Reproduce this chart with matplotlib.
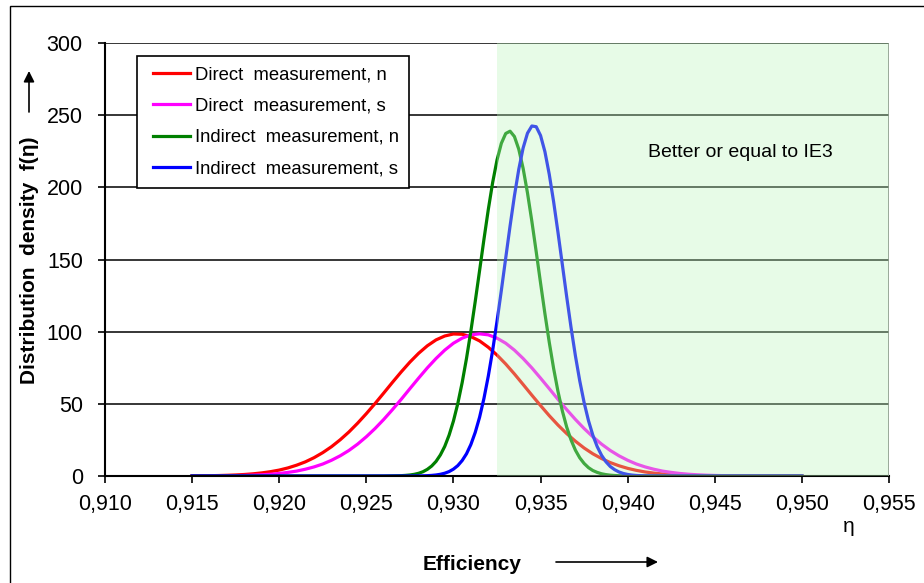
"""
Distribution density of motor efficiency for direct and indirect
measurement, with the IE3 region shaded.
"""

import numpy as np
import matplotlib
import matplotlib.pyplot as plt
from matplotlib.patches import Rectangle
from matplotlib.legend_handler import HandlerLine2D

matplotlib.use("Agg")
plt.rcParams["font.family"] = ["Liberation Sans", "DejaVu Sans"]

# efficiency grid for the two wide (direct) curves
eta_direct = np.round(np.arange(0.915, 0.95001, 0.0005), 5)

direct_n = [
    0.09, 0.14, 0.21, 0.32, 0.49, 0.72, 1.05, 1.52, 2.15, 3.0,
    4.1, 5.6, 7.5, 9.8, 12.7, 16.2, 20.3, 25.1, 30.5, 36.6,
    43.2, 50.2, 57.5, 64.9, 72.1, 78.9, 85.0, 90.2, 94.3, 97.0,
    98.4, 98.2, 96.6, 93.6, 89.2, 83.8, 77.6, 70.7, 63.4, 56.0,
    48.8, 41.8, 35.3, 29.4, 24.1, 19.4, 15.4, 12.1, 9.3, 7.1,
    5.3, 3.9, 2.8, 2.0, 1.4, 0.98, 0.67, 0.45, 0.30, 0.19,
    0.12, 0.08, 0.05, 0.03, 0.02, 0.01, 0.01, 0.0, 0.0, 0.0,
    0.0,
]

direct_s = [
    0.02, 0.04, 0.07, 0.10, 0.16, 0.25, 0.38, 0.57, 0.84, 1.22,
    1.75, 2.5, 3.4, 4.7, 6.3, 8.3, 10.9, 14.0, 17.7, 22.1,
    27.2, 32.9, 39.2, 46.0, 53.1, 60.5, 67.8, 74.9, 81.4, 87.2,
    92.0, 95.5, 97.8, 98.5, 97.8, 95.5, 92.0, 87.2, 81.4, 74.9,
    67.8, 60.5, 53.1, 46.0, 39.2, 32.9, 27.2, 22.1, 17.7, 14.0,
    10.9, 8.3, 6.3, 4.7, 3.4, 2.5, 1.75, 1.22, 0.84, 0.57,
    0.38, 0.25, 0.16, 0.10, 0.07, 0.04, 0.02, 0.01, 0.01, 0.0,
    0.0,
]

# efficiency grid for the two narrow (indirect) curves
eta_indirect = np.round(np.concatenate([
    [0.915, 0.920, 0.925, 0.926],
    np.arange(0.927, 0.94101, 0.00025),
    [0.942, 0.945, 0.950],
]), 5)

indirect_n = [
    0.0, 0.0, 0.0, 0.02,
    0.24, 0.42, 0.70, 1.16, 1.87, 2.95, 4.6, 6.9, 10.1, 14.6,
    20.5, 28.3, 38.1, 50.2, 64.7, 81.5, 100.4, 120.9, 142.3, 163.9,
    184.6, 203.3, 218.9, 230.5, 237.3, 238.9, 235.2, 226.4, 213.1, 196.1,
    176.5, 155.4, 133.7, 112.5, 92.6, 74.5, 58.6, 45.1, 33.9, 25.0,
    17.9, 12.6, 8.7, 5.8, 3.8, 2.5, 1.55, 0.96, 0.57, 0.34,
    0.19, 0.11, 0.06, 0.03, 0.02, 0.01, 0.0,
    0.0, 0.0, 0.0,
]

indirect_s = [
    0.0, 0.0, 0.0, 0.0,
    0.01, 0.01, 0.02, 0.04, 0.07, 0.13, 0.24, 0.42, 0.71, 1.19,
    1.93, 3.06, 4.76, 7.2, 10.7, 15.4, 21.8, 30.2, 40.7, 53.7,
    69.2, 87.0, 107.1, 128.6, 151.0, 173.2, 194.1, 212.5, 227.3, 237.5,
    242.5, 242.0, 235.9, 224.7, 209.0, 190.0, 168.8, 146.5, 124.2, 102.9,
    83.3, 65.9, 50.9, 38.4, 28.3, 20.4, 14.4, 9.9, 6.6, 4.4,
    2.8, 1.75, 1.07, 0.64, 0.38, 0.21, 0.12,
    0.01, 0.0, 0.0,
]

ie3_limit = 0.9325
x_ticks = [0.910, 0.915, 0.920, 0.925, 0.930, 0.935, 0.940, 0.945, 0.950, 0.955]
x_tick_labels = ["0,910", "0,915", "0,920", "0,925", "0,930",
                 "0,935", "0,940", "0,945", "0,950", "0,955"]
y_ticks = [0, 50, 100, 150, 200, 250, 300]


def plot_distribution():
    fig = plt.figure(figsize=(9.24, 5.83), dpi=100)
    ax = fig.add_axes([105 / 924, 1 - 476 / 583, 784 / 924, 433 / 583])

    ax.plot(eta_direct, direct_n, color="#ff0000", lw=2.3,
            label="Direct  measurement, n", zorder=2)
    ax.plot(eta_direct, direct_s, color="#ff00ff", lw=2.3,
            label="Direct  measurement, s", zorder=2)
    ax.plot(eta_indirect, indirect_n, color="#008000", lw=2.3,
            label="Indirect  measurement, n", zorder=2)
    ax.plot(eta_indirect, indirect_s, color="#0000ff", lw=2.3,
            label="Indirect  measurement, s", zorder=2)

    # translucent IE3 region drawn over the curves
    ax.axvspan(ie3_limit, 0.955, facecolor=(188 / 255, 246 / 255, 188 / 255),
               alpha=0.35, lw=0, zorder=3)
    ax.axvline(0.955, color="#8c9c8c", lw=1.2, zorder=3)
    ax.text(0.94645, 224, "Better or equal to IE3", fontsize=14,
            ha="center", va="center", zorder=5)

    ax.set_xlim(0.910, 0.955)
    ax.set_ylim(0, 300)
    ax.set_xticks(x_ticks)
    ax.set_xticklabels(x_tick_labels)
    ax.set_yticks(y_ticks)
    ax.tick_params(labelsize=15.5, length=5, width=1.2, direction="out")
    ax.tick_params(axis="x", pad=8)
    ax.tick_params(axis="y", pad=11)
    ax.yaxis.grid(True, color="black", lw=1.1)
    ax.set_axisbelow(True)
    for side in ("top", "right"):
        ax.spines[side].set_visible(False)
    for side in ("left", "bottom"):
        ax.spines[side].set_linewidth(1.5)
        ax.spines[side].set_zorder(2.5)

    leg = ax.legend(loc="upper left", bbox_to_anchor=(32 / 784, 1 - 13 / 433),
                    borderaxespad=0, fontsize=13.3, fancybox=False,
                    edgecolor="black", framealpha=1, handlelength=2.3,
                    handletextpad=0.3, labelspacing=0.78, borderpad=0.55,
                    handler_map={plt.Line2D: HandlerLine2D(xpad=0.3)})
    leg.get_frame().set_linewidth(1.2)
    leg.set_zorder(6)

    # axis titles and arrows
    fig.text(30 / 924, 1 - 260 / 583, "Distribution  density  f(\u03b7)",
             rotation=90, ha="center", va="center", fontsize=15,
             fontweight="bold")
    fig.text(472 / 924, 1 - 564 / 583, "Efficiency", ha="center",
             va="center", fontsize=15, fontweight="bold")
    fig.text(849 / 924, 1 - 526 / 583, "\u03b7", ha="center", va="center",
             fontsize=15)
    arrow = dict(arrowstyle="-|>", color="black", lw=1.2,
                 mutation_scale=16, shrinkA=0, shrinkB=0)
    ax.annotate("", xy=(29 / 924, 1 - 71 / 583), xytext=(29 / 924, 1 - 112 / 583),
                xycoords="figure fraction", textcoords="figure fraction",
                arrowprops=arrow, annotation_clip=False)
    ax.annotate("", xy=(658 / 924, 1 - 562 / 583), xytext=(556 / 924, 1 - 562 / 583),
                xycoords="figure fraction", textcoords="figure fraction",
                arrowprops=arrow, annotation_clip=False)

    # outer frame of the chart area
    fig.add_artist(Rectangle((10 / 924, -0.05), 1.0, 1 - 6 / 583 + 0.05,
                             transform=fig.transFigure, fill=False,
                             edgecolor="black", lw=1.0))

    fig.savefig("out.png", dpi=100)


if __name__ == "__main__":
    plot_distribution()
